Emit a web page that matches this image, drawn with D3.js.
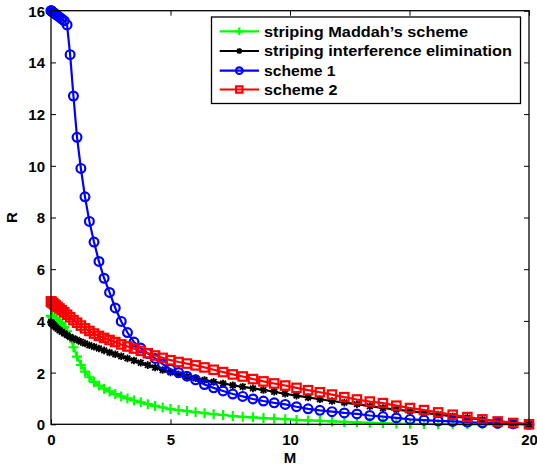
<!DOCTYPE html>
<html><head><meta charset="utf-8">
<script src="https://cdn.jsdelivr.net/npm/d3@7"></script>
<style>
html,body{margin:0;padding:0;background:#fff;}
svg{display:block;font-family:"Liberation Sans",Arial,sans-serif;}
</style></head>
<body><svg id="c" width="537" height="468"></svg>
<script>
const seriesNames = ["striping Maddah\u2019s scheme","striping interference elimination","scheme 1","scheme 2"];
const M = [0,0.006,0.022,0.05,0.089,0.139,0.2,0.272,0.356,0.45,0.556,0.672,0.8,0.939,1.089,1.25,1.422,1.606,1.8,2.006,2.222,2.45,2.689,2.939,3.2,3.472,3.756,4.05,4.356,4.672,5.0,5.339,5.689,6.05,6.422,6.806,7.2,7.606,8.022,8.45,8.889,9.339,9.8,10.272,10.756,11.25,11.756,12.272,12.8,13.339,13.889,14.45,15.022,15.606,16.2,16.806,17.422,18.05,18.689,19.339,20];
const green = [4.2,4.19,4.17,4.15,4.12,4.08,4.04,3.99,3.93,3.86,3.76,3.6,3.35,2.98,2.62,2.3,2.04,1.82,1.63,1.5,1.38,1.27,1.17,1.08,1.0,0.92,0.85,0.78,0.71,0.65,0.59,0.55,0.51,0.47,0.43,0.39,0.36,0.32,0.29,0.27,0.24,0.22,0.2,0.17,0.15,0.13,0.11,0.09,0.075,0.06,0.045,0.03,0.02,0.012,0.006,0.003,0,0,0,0,0];
const black = [3.95,3.94,3.92,3.89,3.86,3.81,3.75,3.7,3.64,3.58,3.51,3.45,3.38,3.32,3.26,3.19,3.13,3.06,3.0,2.93,2.86,2.78,2.71,2.63,2.55,2.47,2.38,2.29,2.2,2.1,2.01,1.93,1.85,1.78,1.71,1.64,1.58,1.51,1.45,1.39,1.33,1.26,1.18,1.11,1.04,0.97,0.9,0.84,0.78,0.7,0.63,0.57,0.51,0.44,0.38,0.31,0.25,0.18,0.12,0.06,0];
const blue = [16,15.996,15.984,15.965,15.938,15.903,15.86,15.81,15.75,15.685,15.61,15.45,14.3,12.7,11.1,9.9,8.8,7.85,7.05,6.3,5.65,5.1,4.5,3.98,3.55,3.18,2.95,2.74,2.55,2.33,2.13,2.0,1.86,1.72,1.54,1.41,1.29,1.17,1.08,0.98,0.9,0.83,0.77,0.68,0.6,0.54,0.49,0.44,0.4,0.34,0.3,0.245,0.19,0.16,0.13,0.11,0.085,0.06,0.04,0.02,0];
const red = [4.75,4.745,4.73,4.71,4.68,4.64,4.6,4.54,4.48,4.41,4.33,4.24,4.14,4.03,3.93,3.82,3.71,3.61,3.51,3.42,3.34,3.26,3.18,3.09,3.01,2.93,2.84,2.75,2.66,2.57,2.48,2.41,2.35,2.28,2.2,2.11,2.02,1.93,1.85,1.75,1.66,1.58,1.5,1.41,1.32,1.24,1.15,1.05,0.96,0.88,0.82,0.72,0.63,0.55,0.46,0.37,0.28,0.19,0.11,0.05,0];
const xTicks = [0,5,10,15,20];
const yTicks = [0,2,4,6,8,10,12,14,16];

const svg = d3.select("#c");
const L = 51, R = 529, T = 10.7, B = 424.3;
const x = d3.scaleLinear().domain([0,20]).range([L,R]);
const y = d3.scaleLinear().domain([0,16]).range([B,T]);

const fontCss = "bold 15px 'Liberation Sans', Arial, sans-serif";
const gx = svg.append("g").attr("transform",`translate(0,${B})`)
  .call(d3.axisBottom(x).tickValues(xTicks).tickSize(-5).tickPadding(9).tickFormat(d3.format("d")));
const gxt = svg.append("g").attr("transform",`translate(0,${T})`)
  .call(d3.axisTop(x).tickValues(xTicks).tickSize(-5).tickFormat(""));
const gy = svg.append("g").attr("transform",`translate(${L},0)`)
  .call(d3.axisLeft(y).tickValues(yTicks).tickSize(-5).tickPadding(6).tickFormat(d3.format("d")));
const gyr = svg.append("g").attr("transform",`translate(${R},0)`)
  .call(d3.axisRight(y).tickValues(yTicks).tickSize(-5).tickFormat(""));
[gx,gxt,gy,gyr].forEach(g=>{
  g.select(".domain").remove();
  g.selectAll(".tick line").attr("stroke","#000").attr("stroke-width",1);
  g.selectAll("text").attr("fill","#000").style("font",fontCss);
});
gx.selectAll("text").attr("dy","0.8em");
gy.selectAll("text").attr("dy","0.36em");

svg.append("clipPath").attr("id","clip").append("rect").attr("x",L-6).attr("y",T-6).attr("width",R-L+12).attr("height",B-T+12);

const series = [
  {vals:green, color:"#00ff00", marker:"plus"},
  {vals:black, color:"#000000", marker:"star"},
  {vals:blue,  color:"#0000ff", marker:"circle"},
  {vals:red,   color:"#ff0000", marker:"square"}
];

function drawMarker(g, type, color, cx, cy, s){
  if(type==="plus"){
    g.append("path").attr("d",`M${cx-s},${cy}H${cx+s}M${cx},${cy-s}V${cy+s}`).attr("stroke",color).attr("stroke-width",2.2).attr("fill","none");
  } else if(type==="star"){
    const d = s*0.75;
    g.append("path").attr("d",`M${cx-s},${cy}H${cx+s}M${cx},${cy-s}V${cy+s}M${cx-d},${cy-d}L${cx+d},${cy+d}M${cx-d},${cy+d}L${cx+d},${cy-d}`).attr("stroke",color).attr("stroke-width",1.8).attr("fill","none");
  } else if(type==="circle"){
    g.append("circle").attr("cx",cx).attr("cy",cy).attr("r",s).attr("stroke",color).attr("stroke-width",2.2).attr("fill","none");
  } else if(type==="square"){
    g.append("rect").attr("x",cx-s).attr("y",cy-s).attr("width",2*s).attr("height",2*s).attr("stroke",color).attr("stroke-width",2.2).attr("fill","none");
  }
}
const msize = {plus:5, star:3.8, circle:4.4, square:4.2};

const plotG = svg.append("g").attr("clip-path","url(#clip)");
const line = d3.line().x((d,i)=>x(M[i])).y(d=>y(d));
series.forEach(s=>{
  const g = plotG.append("g");
  g.append("path").datum(s.vals).attr("d",line).attr("fill","none").attr("stroke",s.color).attr("stroke-width",2.2);
  s.vals.forEach((v,i)=>drawMarker(g, s.marker, s.color, x(M[i]), y(v), msize[s.marker]));
});

svg.append("rect").attr("x",L).attr("y",T).attr("width",R-L).attr("height",B-T).attr("fill","none").attr("stroke","#000").attr("stroke-width",1.3);

svg.append("text").attr("x",(L+R)/2).attr("y",463).attr("text-anchor","middle").style("font",fontCss).text("M");
svg.append("text").attr("transform",`translate(17,${(T+B)/2}) rotate(-90)`).attr("text-anchor","middle").style("font",fontCss).text("R");

const legendWidths = [204,248,71.5,73.5];
const lg = svg.append("g");
lg.append("rect").attr("x",211.5).attr("y",17).attr("width",309).attr("height",86.5).attr("fill","#fff").attr("stroke","#000").attr("stroke-width",1.3);
const rowY = [31.3,51,70.7,89.5];
series.forEach((s,i)=>{
  lg.append("line").attr("x1",219.7).attr("x2",259).attr("y1",rowY[i]).attr("y2",rowY[i]).attr("stroke",s.color).attr("stroke-width",2.2);
  drawMarker(lg, s.marker, s.color, 239.3, rowY[i], msize[s.marker]*0.75);
  lg.append("text").attr("x",264).attr("y",rowY[i]).attr("dy","0.36em")
    .attr("textLength",legendWidths[i]).attr("lengthAdjust","spacingAndGlyphs")
    .style("font","bold 15px 'Liberation Sans', Arial, sans-serif").text(seriesNames[i]);
});
</script></body></html>
